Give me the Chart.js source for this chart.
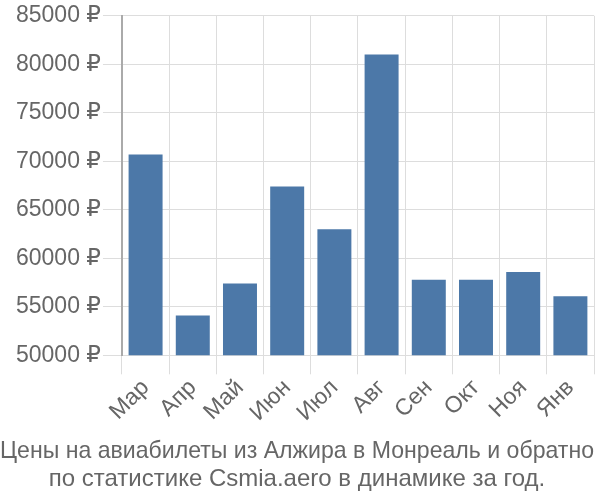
<!DOCTYPE html>
<html>
<head>
<meta charset="utf-8">
<script src="https://cdn.jsdelivr.net/npm/chart.js@4/dist/chart.umd.min.js"></script>
<style>
html,body{margin:0;padding:0;background:#fff;}
#wrap{width:600px;height:500px;}
</style>
</head>
<body>
<div id="wrap"><canvas id="c" width="600" height="500"></canvas></div>
<script>
const months = ["Мар","Апр","Май","Июн","Июл","Авг","Сен","Окт","Ноя","Янв"];
const prices = [70700, 54100, 57400, 67400, 63000, 81000, 57800, 57800, 58600, 56100];
const yTicks = [50000, 55000, 60000, 65000, 70000, 75000, 80000, 85000];
const titleLines = ["Цены на авиабилеты из Алжира в Монреаль и обратно", "по статистике Csmia.aero в динамике за год."];

const font = "'Liberation Sans', Arial, 'DejaVu Sans', sans-serif";
new Chart(document.getElementById('c'), {
  type: 'bar',
  data: {
    labels: months,
    datasets: [{
      data: prices,
      backgroundColor: '#4c78a8',
      borderWidth: 0
    }]
  },
  options: {
    responsive: false,
    animation: false,
    layout: { padding: { top: 2, right: 6, left: 0, bottom: 7 } },
    plugins: {
      legend: { display: false },
      tooltip: { enabled: false },
      title: {
        display: true,
        position: 'bottom',
        text: titleLines,
        color: '#666',
        font: { family: font, size: 24, weight: 'normal', lineHeight: 1.17 },
        padding: { top: 10, bottom: 0 }
      }
    },
    scales: {
      x: {
        grid: { color: '#dddddd', tickLength: 19, lineWidth: 1 },
        border: { color: '#dddddd' },
        ticks: {
          color: '#666',
          font: { family: font, size: 23 },
          maxRotation: 45, minRotation: 45,
          padding: 0
        }
      },
      y: {
        min: 50000, max: 85000,
        afterBuildTicks: (axis) => { axis.ticks = yTicks.map(v => ({ value: v })); },
        afterFit: (axis) => { axis.width += 14; },
        grid: { color: '#dddddd', tickLength: 19, lineWidth: 1 },
        border: { color: '#aaaaaa', width: 2 },
        ticks: {
          color: '#666',
          font: { family: font, size: 23 },
          padding: 2,
          callback: (v) => v + ' ₽'
        }
      }
    }
  }
});
</script>
</body>
</html>
